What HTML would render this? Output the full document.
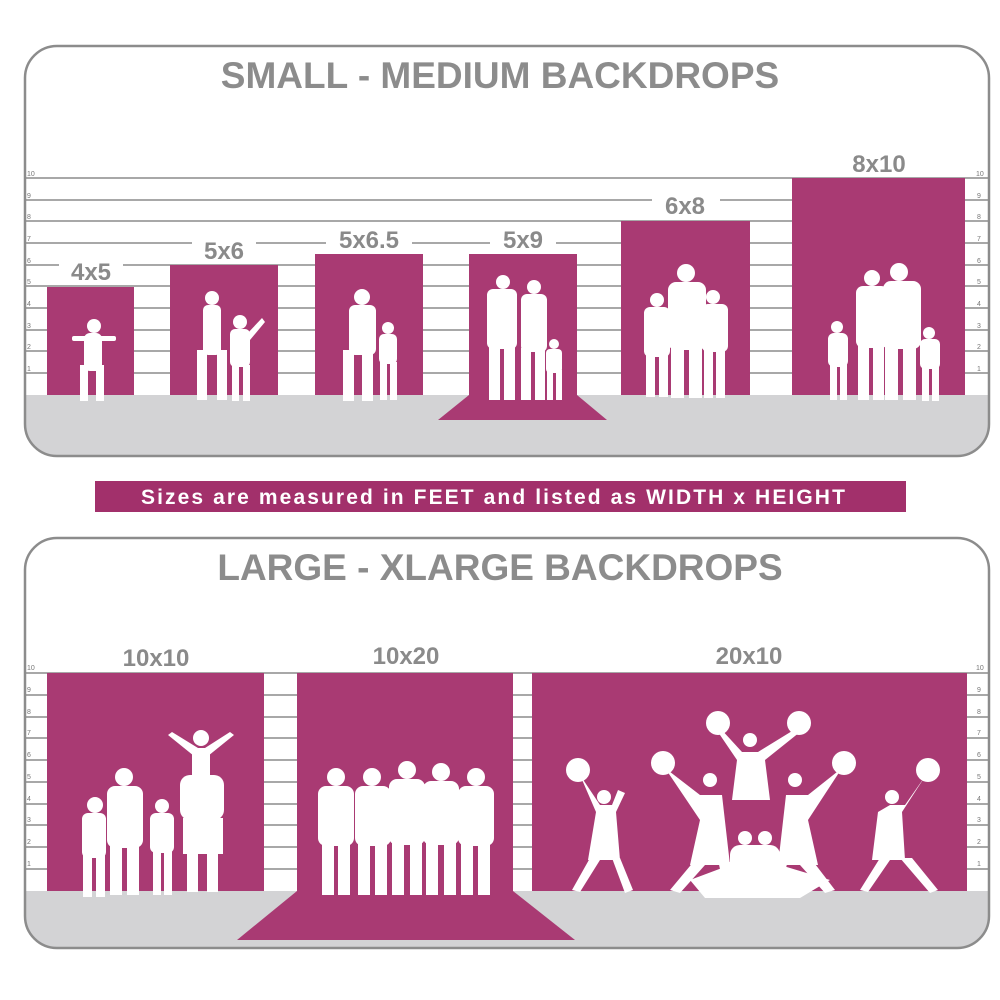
<!DOCTYPE html>
<html><head><meta charset="utf-8"><style>
html,body{margin:0;padding:0;background:#fff;}
svg{display:block}
text{font-family:"Liberation Sans",sans-serif;}
</style></head><body>
<svg width="1000" height="1000" viewBox="0 0 1000 1000" xmlns="http://www.w3.org/2000/svg">
<defs>
<clipPath id="c1"><rect x="25" y="46" width="964" height="410" rx="32"/></clipPath>
<clipPath id="c2"><rect x="25" y="538" width="964" height="410" rx="32"/></clipPath>
</defs>
<g clip-path="url(#c1)">
<rect x="25" y="46" width="964" height="410" fill="#fff"/>
<g stroke="#8c8c8c" stroke-width="1.6">
<line x1="25" x2="989" y1="178" y2="178"/><line x1="25" x2="989" y1="200" y2="200"/>
<line x1="25" x2="989" y1="221" y2="221"/><line x1="25" x2="989" y1="243" y2="243"/>
<line x1="25" x2="989" y1="265" y2="265"/><line x1="25" x2="989" y1="286" y2="286"/>
<line x1="25" x2="989" y1="308" y2="308"/><line x1="25" x2="989" y1="330" y2="330"/>
<line x1="25" x2="989" y1="351" y2="351"/><line x1="25" x2="989" y1="373" y2="373"/>
</g>
<rect x="25" y="395" width="964" height="70" fill="#d3d3d5"/>
<g fill="#a93a73">
<rect x="47" y="287" width="87" height="108"/>
<rect x="170" y="265" width="108" height="130"/>
<rect x="315" y="254" width="108" height="141"/>
<rect x="469" y="254" width="108" height="141"/>
<polygon points="469,395 577,395 607,420 438,420"/>
<rect x="621" y="221" width="129" height="174"/>
<rect x="792" y="178" width="173" height="217"/>
</g>
</g>
<rect x="25" y="46" width="964" height="410" rx="32" fill="none" stroke="#8c8c8c" stroke-width="2.5"/>
<g fill="#fff">
<rect x="59" y="256" width="64" height="29"/>
<rect x="192" y="234" width="64" height="29"/>
<rect x="326" y="228" width="86" height="24"/>
<rect x="490" y="228" width="66" height="24"/>
<rect x="652" y="193" width="68" height="26"/>
</g>
<g fill="#8a8a8a" font-weight="bold" text-anchor="middle" font-size="24">
<text x="91" y="280">4x5</text><text x="224" y="259">5x6</text>
<text x="369" y="248">5x6.5</text><text x="523" y="248">5x9</text>
<text x="685" y="214">6x8</text><text x="879" y="172">8x10</text>
</g>
<g fill="#777" font-size="7">
<text x="27" y="176">10</text><text x="27" y="198">9</text><text x="27" y="219">8</text><text x="27" y="241">7</text><text x="27" y="263">6</text><text x="27" y="284">5</text><text x="27" y="306">4</text><text x="27" y="328">3</text><text x="27" y="349">2</text><text x="27" y="371">1</text>
<text x="976" y="176">10</text><text x="977" y="198">9</text><text x="977" y="219">8</text><text x="977" y="241">7</text><text x="977" y="263">6</text><text x="977" y="284">5</text><text x="977" y="306">4</text><text x="977" y="328">3</text><text x="977" y="349">2</text><text x="977" y="371">1</text>
</g>
<text x="500" y="88" text-anchor="middle" fill="#8c8c8c" font-size="37" font-weight="bold">SMALL - MEDIUM BACKDROPS</text>
<g fill="#fff">
<circle cx="94" cy="326" r="7"/><rect x="84" y="333" width="18" height="38" rx="6"/><rect x="72" y="336" width="44" height="5" rx="2"/><rect x="80" y="365" width="8" height="36"/><rect x="96" y="365" width="8" height="36"/>
<circle cx="212" cy="298" r="7"/><rect x="203" y="305" width="18" height="50" rx="5"/><rect x="197" y="350" width="10" height="50"/><rect x="217" y="350" width="10" height="50"/>
<circle cx="240" cy="322" r="7"/><rect x="230" y="329" width="20" height="38" rx="5"/><rect x="232" y="365" width="7" height="36"/><rect x="243" y="365" width="7" height="36"/><polygon points="246,335 262,318 265,322 250,340"/>
<circle cx="362" cy="297" r="8"/><rect x="349" y="305" width="27" height="50" rx="6"/><rect x="343" y="350" width="11" height="51"/><rect x="362" y="350" width="11" height="51"/>
<circle cx="388" cy="328" r="6"/><rect x="379" y="334" width="18" height="30" rx="5"/><rect x="380" y="362" width="7" height="38"/><rect x="390" y="362" width="7" height="38"/>
<circle cx="503" cy="282" r="7"/><rect x="487" y="289" width="30" height="60" rx="6"/><rect x="489" y="345" width="11" height="55"/><rect x="504" y="345" width="11" height="55"/>
<circle cx="534" cy="287" r="7"/><rect x="521" y="294" width="26" height="58" rx="6"/><rect x="521" y="348" width="10" height="52"/><rect x="535" y="348" width="10" height="52"/>
<circle cx="554" cy="344" r="5"/><rect x="546" y="349" width="16" height="24" rx="4"/><rect x="547" y="370" width="6" height="30"/><rect x="556" y="370" width="6" height="30"/>
<circle cx="657" cy="300" r="7"/><rect x="644" y="307" width="26" height="50" rx="6"/><rect x="646" y="352" width="9" height="45"/><rect x="659" y="352" width="9" height="45"/>
<circle cx="686" cy="273" r="9"/><rect x="668" y="282" width="38" height="68" rx="8"/><rect x="671" y="345" width="13" height="53"/><rect x="689" y="345" width="13" height="53"/>
<circle cx="713" cy="297" r="7"/><rect x="702" y="304" width="26" height="48" rx="6"/><rect x="704" y="350" width="9" height="48"/><rect x="716" y="350" width="9" height="48"/>
<circle cx="872" cy="278" r="8"/><rect x="856" y="286" width="32" height="62" rx="7"/><rect x="858" y="345" width="11" height="55"/><rect x="873" y="345" width="11" height="55"/>
<circle cx="899" cy="272" r="9"/><rect x="883" y="281" width="38" height="68" rx="8"/><rect x="885" y="345" width="13" height="55"/><rect x="903" y="345" width="13" height="55"/>
<circle cx="837" cy="327" r="6"/><rect x="828" y="333" width="20" height="34" rx="6"/><rect x="830" y="364" width="7" height="36"/><rect x="840" y="364" width="7" height="36"/>
<circle cx="929" cy="333" r="6"/><rect x="920" y="339" width="20" height="30" rx="5"/><rect x="922" y="366" width="7" height="35"/><rect x="932" y="366" width="7" height="35"/>
</g>
<rect x="95" y="481" width="811" height="31" fill="#a2306b"/>
<text x="494" y="504" text-anchor="middle" fill="#fff" font-size="21" font-weight="bold" letter-spacing="2.1">Sizes are measured in FEET and listed as WIDTH x HEIGHT</text>
<g clip-path="url(#c2)">
<rect x="25" y="538" width="964" height="410" fill="#fff"/>
<g stroke="#8c8c8c" stroke-width="1.6">
<line x1="25" x2="989" y1="673" y2="673"/><line x1="25" x2="989" y1="695" y2="695"/>
<line x1="25" x2="989" y1="717" y2="717"/><line x1="25" x2="989" y1="738" y2="738"/>
<line x1="25" x2="989" y1="760" y2="760"/><line x1="25" x2="989" y1="782" y2="782"/>
<line x1="25" x2="989" y1="804" y2="804"/><line x1="25" x2="989" y1="825" y2="825"/>
<line x1="25" x2="989" y1="847" y2="847"/><line x1="25" x2="989" y1="869" y2="869"/>
</g>
<rect x="25" y="891" width="964" height="60" fill="#d3d3d5"/>
<g fill="#a93a73">
<rect x="47" y="673" width="217" height="218"/>
<rect x="297" y="673" width="216" height="218"/>
<polygon points="297,891 513,891 575,940 237,940"/>
<rect x="532" y="673" width="435" height="218"/>
</g>
</g>
<rect x="25" y="538" width="964" height="410" rx="32" fill="none" stroke="#8c8c8c" stroke-width="2.5"/>
<g fill="#8a8a8a" font-weight="bold" text-anchor="middle" font-size="24">
<text x="156" y="666">10x10</text><text x="406" y="664">10x20</text><text x="749" y="664">20x10</text>
</g>
<g fill="#777" font-size="7">
<text x="27" y="670">10</text><text x="27" y="692">9</text><text x="27" y="714">8</text><text x="27" y="735">7</text><text x="27" y="757">6</text><text x="27" y="779">5</text><text x="27" y="801">4</text><text x="27" y="822">3</text><text x="27" y="844">2</text><text x="27" y="866">1</text>
<text x="976" y="670">10</text><text x="977" y="692">9</text><text x="977" y="714">8</text><text x="977" y="735">7</text><text x="977" y="757">6</text><text x="977" y="779">5</text><text x="977" y="801">4</text><text x="977" y="822">3</text><text x="977" y="844">2</text><text x="977" y="866">1</text>
</g>
<text x="500" y="580" text-anchor="middle" fill="#8c8c8c" font-size="37" font-weight="bold">LARGE - XLARGE BACKDROPS</text>
<g fill="#fff">
<circle cx="95" cy="805" r="8"/><rect x="82" y="813" width="24" height="45" rx="6"/><rect x="83" y="855" width="9" height="42"/><rect x="96" y="855" width="9" height="42"/>
<circle cx="124" cy="777" r="9"/><rect x="107" y="786" width="36" height="62" rx="8"/><rect x="110" y="845" width="12" height="50"/><rect x="127" y="845" width="12" height="50"/>
<circle cx="162" cy="806" r="7"/><rect x="150" y="813" width="24" height="40" rx="6"/><rect x="153" y="850" width="8" height="45"/><rect x="164" y="850" width="8" height="45"/>
<circle cx="201" cy="738" r="8"/><polygon points="168,735 172,732 198,748 205,748 230,732 234,735 208,756 194,756"/><rect x="180" y="775" width="44" height="45" rx="10"/><rect x="183" y="818" width="40" height="36"/><rect x="187" y="850" width="11" height="42"/><rect x="207" y="850" width="11" height="42"/><rect x="192" y="754" width="18" height="28"/>
<circle cx="336" cy="777" r="9"/><rect x="318" y="786" width="36" height="60" rx="8"/><rect x="322" y="843" width="12" height="52"/><rect x="338" y="843" width="12" height="52"/>
<circle cx="372" cy="777" r="9"/><rect x="355" y="786" width="36" height="60" rx="8"/><rect x="358" y="843" width="12" height="52"/><rect x="375" y="843" width="12" height="52"/>
<circle cx="407" cy="770" r="9"/><rect x="389" y="779" width="36" height="66" rx="8"/><rect x="392" y="843" width="12" height="52"/><rect x="410" y="843" width="12" height="52"/>
<circle cx="441" cy="772" r="9"/><rect x="423" y="781" width="36" height="64" rx="8"/><rect x="426" y="843" width="12" height="52"/><rect x="444" y="843" width="12" height="52"/>
<circle cx="476" cy="777" r="9"/><rect x="458" y="786" width="36" height="60" rx="8"/><rect x="461" y="843" width="12" height="52"/><rect x="478" y="843" width="12" height="52"/>
<circle cx="578" cy="770" r="12"/><circle cx="604" cy="797" r="7"/><polygon points="580,775 600,805 612,805 618,790 625,793 616,812 620,860 588,860 596,812"/><polygon points="590,858 572,890 580,892 600,860"/><polygon points="612,858 625,893 633,890 620,858"/>
<circle cx="663" cy="763" r="12"/><circle cx="710" cy="780" r="7"/><polygon points="665,768 700,795 722,795 730,865 690,865 700,820"/><polygon points="695,860 670,890 680,893 705,865"/><polygon points="718,860 725,892 735,892 730,862"/>
<circle cx="718" cy="723" r="12"/><circle cx="799" cy="723" r="12"/><circle cx="750" cy="740" r="7"/><polygon points="720,728 742,752 758,752 797,728 800,732 765,760 770,800 732,800 737,760 718,732"/>
<circle cx="844" cy="763" r="12"/><circle cx="795" cy="780" r="7"/><polygon points="842,768 808,795 786,795 778,865 818,865 808,820"/><polygon points="812,860 835,890 825,893 800,865"/><polygon points="788,860 780,892 770,892 775,862"/>
<circle cx="928" cy="770" r="12"/><circle cx="892" cy="797" r="7"/><polygon points="926,775 905,805 890,805 878,812 872,860 905,860 902,812"/><polygon points="880,858 860,890 868,892 890,860"/><polygon points="900,858 930,893 938,890 912,858"/>
<circle cx="745" cy="838" r="7"/><circle cx="765" cy="838" r="7"/><rect x="730" y="845" width="50" height="40" rx="10"/><polygon points="690,880 730,865 780,865 830,880 800,898 705,898"/>
</g>
</svg>
</body></html>
